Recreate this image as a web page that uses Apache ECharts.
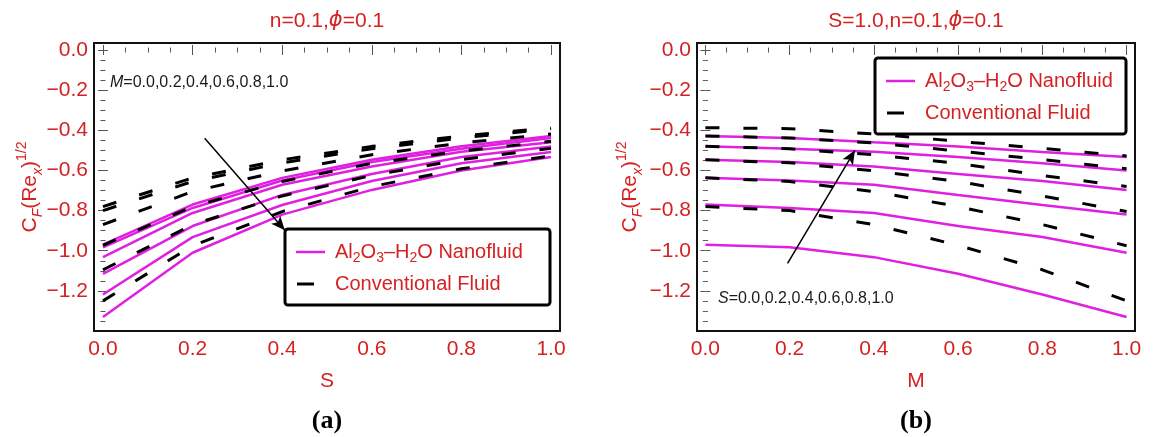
<!DOCTYPE html>
<html><head><meta charset="utf-8">
<script src="https://cdn.jsdelivr.net/npm/echarts@6/dist/echarts.min.js"></script>
<style>html,body{margin:0;padding:0;background:#fff;}#c{width:1154px;height:437px;}</style>
</head><body><div id="c"></div>
<script>
// ---------------- data ----------------
const S_VALUES = [0.0, 0.2, 0.4, 0.6, 0.8, 1.0];
const M_VALUES = [0.0, 0.2, 0.4, 0.6, 0.8, 1.0];

// Al2O3-H2O nanofluid: one array per S, values along M
const NANO_S00 = [-0.970, -0.983, -1.032, -1.115, -1.218, -1.330];
const NANO_S02 = [-0.770, -0.787, -0.812, -0.877, -0.932, -1.010];
const NANO_S04 = [-0.637, -0.650, -0.671, -0.722, -0.772, -0.820];
const NANO_S06 = [-0.547, -0.558, -0.580, -0.618, -0.653, -0.697];
const NANO_S08 = [-0.480, -0.492, -0.507, -0.533, -0.564, -0.600];
const NANO_S10 = [-0.428, -0.438, -0.460, -0.481, -0.508, -0.533];

// Conventional fluid: one array per S, values along M
const CONV_S00 = [-0.780, -0.800, -0.870, -0.973, -1.095, -1.250];
const CONV_S02 = [-0.637, -0.655, -0.705, -0.780, -0.870, -0.975];
const CONV_S04 = [-0.547, -0.562, -0.602, -0.655, -0.727, -0.805];
const CONV_S06 = [-0.480, -0.492, -0.522, -0.565, -0.625, -0.680];
const CONV_S08 = [-0.428, -0.438, -0.463, -0.503, -0.546, -0.592];
const CONV_S10 = [-0.387, -0.392, -0.418, -0.455, -0.490, -0.528];

const NANO_BY_S = [NANO_S00, NANO_S02, NANO_S04, NANO_S06, NANO_S08, NANO_S10];
const CONV_BY_S = [CONV_S00, CONV_S02, CONV_S04, CONV_S06, CONV_S08, CONV_S10];

const X_TICKS = [0.0, 0.2, 0.4, 0.6, 0.8, 1.0];
const Y_TICKS = [0.0, -0.2, -0.4, -0.6, -0.8, -1.0, -1.2];

// annotation arrows [start, end] in data units
const ARROW_A = [[0.227, -0.440], [0.406, -0.898]];
const ARROW_B = [[0.195, -1.063], [0.355, -0.500]];

// ---------------- style ----------------
const RED = '#d42222';
const MAGENTA = '#e020e0';
const FONT = '"Liberation Sans", Arial, "DejaVu Sans", sans-serif';
const X_RANGE = [-0.02, 1.02];
const Y_RANGE = [-1.40, 0.035];
const GRIDS = [
  {left: 94, top: 43, width: 466, height: 288},
  {left: 697, top: 43, width: 438, height: 288}
];

function minorList(lo, hi, step, majors) {
  const out = [];
  for (let k = Math.round(lo / step); k <= Math.round(hi / step); k++) {
    const v = +(k * step).toFixed(4);
    if (!majors.some(m => Math.abs(m - v) < 1e-6)) out.push(v);
  }
  return out;
}
const X_MINOR = minorList(0, 1.0, 0.05, X_TICKS);
const Y_MINOR = minorList(-1.35, 0, 0.05, Y_TICKS);

const fmtX = v => (+v).toFixed(1);
const fmtY = v => Math.abs(v) < 1e-9 ? '0.0' : '\u2212' + Math.abs(v).toFixed(1);
const tickColor = '#555';

const xAxes = [], yAxes = [];
GRIDS.forEach((g, gi) => {
  const bx = {gridIndex: gi, type: 'value', min: X_RANGE[0], max: X_RANGE[1], axisLine: {show: false}, splitLine: {show: false}};
  xAxes.push(Object.assign({}, bx, {position: 'bottom',
    axisTick: {show: true, inside: true, length: 5, customValues: X_TICKS, lineStyle: {color: tickColor, width: 1}},
    axisLabel: {show: true, customValues: X_TICKS, formatter: fmtX, color: RED, fontSize: 21, fontFamily: FONT, margin: 8}}));
  xAxes.push(Object.assign({}, bx, {position: 'bottom',
    axisTick: {show: true, inside: true, length: 2.5, customValues: X_MINOR, lineStyle: {color: tickColor, width: 1}},
    axisLabel: {show: false}}));
  xAxes.push(Object.assign({}, bx, {position: 'top',
    axisTick: {show: true, inside: true, length: 5, customValues: X_TICKS, lineStyle: {color: tickColor, width: 1}},
    axisLabel: {show: false}}));
  xAxes.push(Object.assign({}, bx, {position: 'top',
    axisTick: {show: true, inside: true, length: 2.5, customValues: X_MINOR, lineStyle: {color: tickColor, width: 1}},
    axisLabel: {show: false}}));

  const by = {gridIndex: gi, type: 'value', min: Y_RANGE[0], max: Y_RANGE[1], axisLine: {show: false}, splitLine: {show: false}};
  yAxes.push(Object.assign({}, by, {position: 'left',
    axisTick: {show: true, inside: true, length: 5, customValues: Y_TICKS, lineStyle: {color: tickColor, width: 1}},
    axisLabel: {show: true, customValues: Y_TICKS, formatter: fmtY, color: RED, fontSize: 21, fontFamily: FONT, margin: 6}}));
  yAxes.push(Object.assign({}, by, {position: 'left',
    axisTick: {show: true, inside: true, length: 2.5, customValues: Y_MINOR, lineStyle: {color: tickColor, width: 1}},
    axisLabel: {show: false}}));
  yAxes.push(Object.assign({}, by, {position: 'right',
    axisTick: {show: true, inside: true, length: 5, customValues: Y_TICKS, lineStyle: {color: tickColor, width: 1}},
    axisLabel: {show: false}}));
  yAxes.push(Object.assign({}, by, {position: 'right',
    axisTick: {show: true, inside: true, length: 2.5, customValues: Y_MINOR, lineStyle: {color: tickColor, width: 1}},
    axisLabel: {show: false}}));
});

const nanoStyle = {type: 'line', symbol: 'none', silent: true, animation: false, z: 3,
  lineStyle: {color: MAGENTA, width: 2.5}};
const convStyle = {type: 'line', symbol: 'none', silent: true, animation: false, z: 4,
  lineStyle: {color: '#000', width: 3, type: [14, 24]}};

function arrowMark(a) {
  return {silent: true, animation: false, symbol: ['none', 'arrow'], symbolSize: [9, 14],
    lineStyle: {color: '#000', width: 1.5, type: 'solid'}, itemStyle: {color: '#000'},
    label: {show: false}, emphasis: {disabled: true},
    data: [[{coord: a[0]}, {coord: a[1]}]]};
}

const series = [];
// (a) curves versus S, one per M
M_VALUES.forEach((m, j) => series.push(Object.assign({}, nanoStyle, {name: 'nanoA' + j, xAxisIndex: 0, yAxisIndex: 0,
  data: S_VALUES.map((s, i) => [s, NANO_BY_S[i][j]])})));
M_VALUES.forEach((m, j) => series.push(Object.assign({}, convStyle, {name: 'convA' + j, xAxisIndex: 0, yAxisIndex: 0,
  data: S_VALUES.map((s, i) => [s, CONV_BY_S[i][j]]),
  markLine: j === 0 ? arrowMark(ARROW_A) : undefined})));
// (b) curves versus M, one per S
S_VALUES.forEach((s, i) => series.push(Object.assign({}, nanoStyle, {name: 'nanoB' + i, xAxisIndex: 4, yAxisIndex: 4,
  data: M_VALUES.map((m, j) => [m, NANO_BY_S[i][j]])})));
S_VALUES.forEach((s, i) => series.push(Object.assign({}, convStyle, {name: 'convB' + i, xAxisIndex: 4, yAxisIndex: 4,
  data: M_VALUES.map((m, j) => [m, CONV_BY_S[i][j]]),
  markLine: i === 0 ? arrowMark(ARROW_B) : undefined})));

// ---------------- graphic texts ----------------
const richBase = {
  n: {fontSize: 21, fontFamily: FONT, fill: RED, lineHeight: 28},
  i: {fontSize: 21, fontFamily: '"DejaVu Sans", ' + FONT, fontStyle: 'italic', fill: RED, lineHeight: 28}
};
function txt(x, y, text, rich, extra) {
  return Object.assign({type: 'text', x: x, y: y, z: 20, silent: true,
    style: {text: text, rich: rich, align: 'center', verticalAlign: 'middle'}}, extra || {});
}
const yNameRich = {
  n: {fontSize: 21, fontFamily: FONT, fill: RED, lineHeight: 30},
  sub: {fontSize: 14, fontFamily: FONT, fontStyle: 'italic', fill: RED, lineHeight: 16, verticalAlign: 'bottom'},
  sup: {fontSize: 14, fontFamily: FONT, fill: RED, lineHeight: 16, verticalAlign: 'top'}
};
const yNameText = '{n|C}{sub|F}{n|(Re}{sub|x}{n|)}{sup|1/2}';
const annRich = {
  i: {fontSize: 16, fontFamily: FONT, fontStyle: 'italic', fill: '#1a1a1a'},
  n: {fontSize: 16, fontFamily: FONT, fill: '#1a1a1a'}
};
const legRich = {
  t: {fontSize: 20, fontFamily: FONT, fill: RED, lineHeight: 26},
  s: {fontSize: 14, fontFamily: FONT, fill: RED, lineHeight: 14, verticalAlign: 'bottom'}
};
function legend(x, y, w, h) {
  return [
    {type: 'rect', z: 15, silent: true, shape: {x: x, y: y, width: w, height: h, r: 3},
      style: {fill: '#fff', stroke: '#000', lineWidth: 3}},
    {type: 'line', z: 16, silent: true, shape: {x1: x + 11, y1: y + 23, x2: x + 40, y2: y + 23},
      style: {stroke: MAGENTA, lineWidth: 2.5}},
    {type: 'line', z: 16, silent: true, shape: {x1: x + 12, y1: y + 55, x2: x + 29, y2: y + 55},
      style: {stroke: '#000', lineWidth: 3}},
    {type: 'text', z: 16, silent: true, x: x + 50, y: y + 23,
      style: {text: '{t|Al}{s|2}{t|O}{s|3}{t|\u2013H}{s|2}{t|O Nanofluid}', rich: legRich, align: 'left', verticalAlign: 'middle'}},
    {type: 'text', z: 16, silent: true, x: x + 50, y: y + 55,
      style: {text: '{t|Conventional Fluid}', rich: legRich, align: 'left', verticalAlign: 'middle'}}
  ];
}

const graphic = [
  txt(327, 21, '{n|n=0.1,}{i|\u03d5}{n|=0.1}', richBase),
  txt(916, 21, '{n|S=1.0,n=0.1,}{i|\u03d5}{n|=0.1}', richBase),
  txt(327, 381, '{n|S}', richBase),
  txt(916, 381, '{n|M}', richBase),
  txt(327, 421, '(a)', null, {style: {text: '(a)', font: 'bold 26px "Liberation Serif", "Times New Roman", serif', fill: '#000', align: 'center', verticalAlign: 'middle'}}),
  txt(916, 421, '(b)', null, {style: {text: '(b)', font: 'bold 26px "Liberation Serif", "Times New Roman", serif', fill: '#000', align: 'center', verticalAlign: 'middle'}}),
  txt(30, 187, yNameText, yNameRich, {rotation: Math.PI / 2}),
  txt(630, 187, yNameText, yNameRich, {rotation: Math.PI / 2}),
  {type: 'text', x: 110, y: 83, z: 20, silent: true,
    style: {text: '{i|M}{n|=0.0,0.2,0.4,0.6,0.8,1.0}', rich: annRich, align: 'left', verticalAlign: 'middle'}},
  {type: 'text', x: 718, y: 299, z: 20, silent: true,
    style: {text: '{i|S}{n|=0.0,0.2,0.4,0.6,0.8,1.0}', rich: annRich, align: 'left', verticalAlign: 'middle'}}
].concat(legend(285, 229, 265, 76)).concat(legend(875, 58, 251, 76));

const chart = echarts.init(document.getElementById('c'), null, {renderer: 'canvas'});
chart.setOption({
  animation: false,
  backgroundColor: '#fff',
  textStyle: {fontFamily: FONT},
  grid: GRIDS.map(g => Object.assign({show: true, borderColor: '#111', borderWidth: 2, backgroundColor: 'transparent', containLabel: false}, g)),
  xAxis: xAxes,
  yAxis: yAxes,
  series: series,
  graphic: graphic
});
</script></body></html>
